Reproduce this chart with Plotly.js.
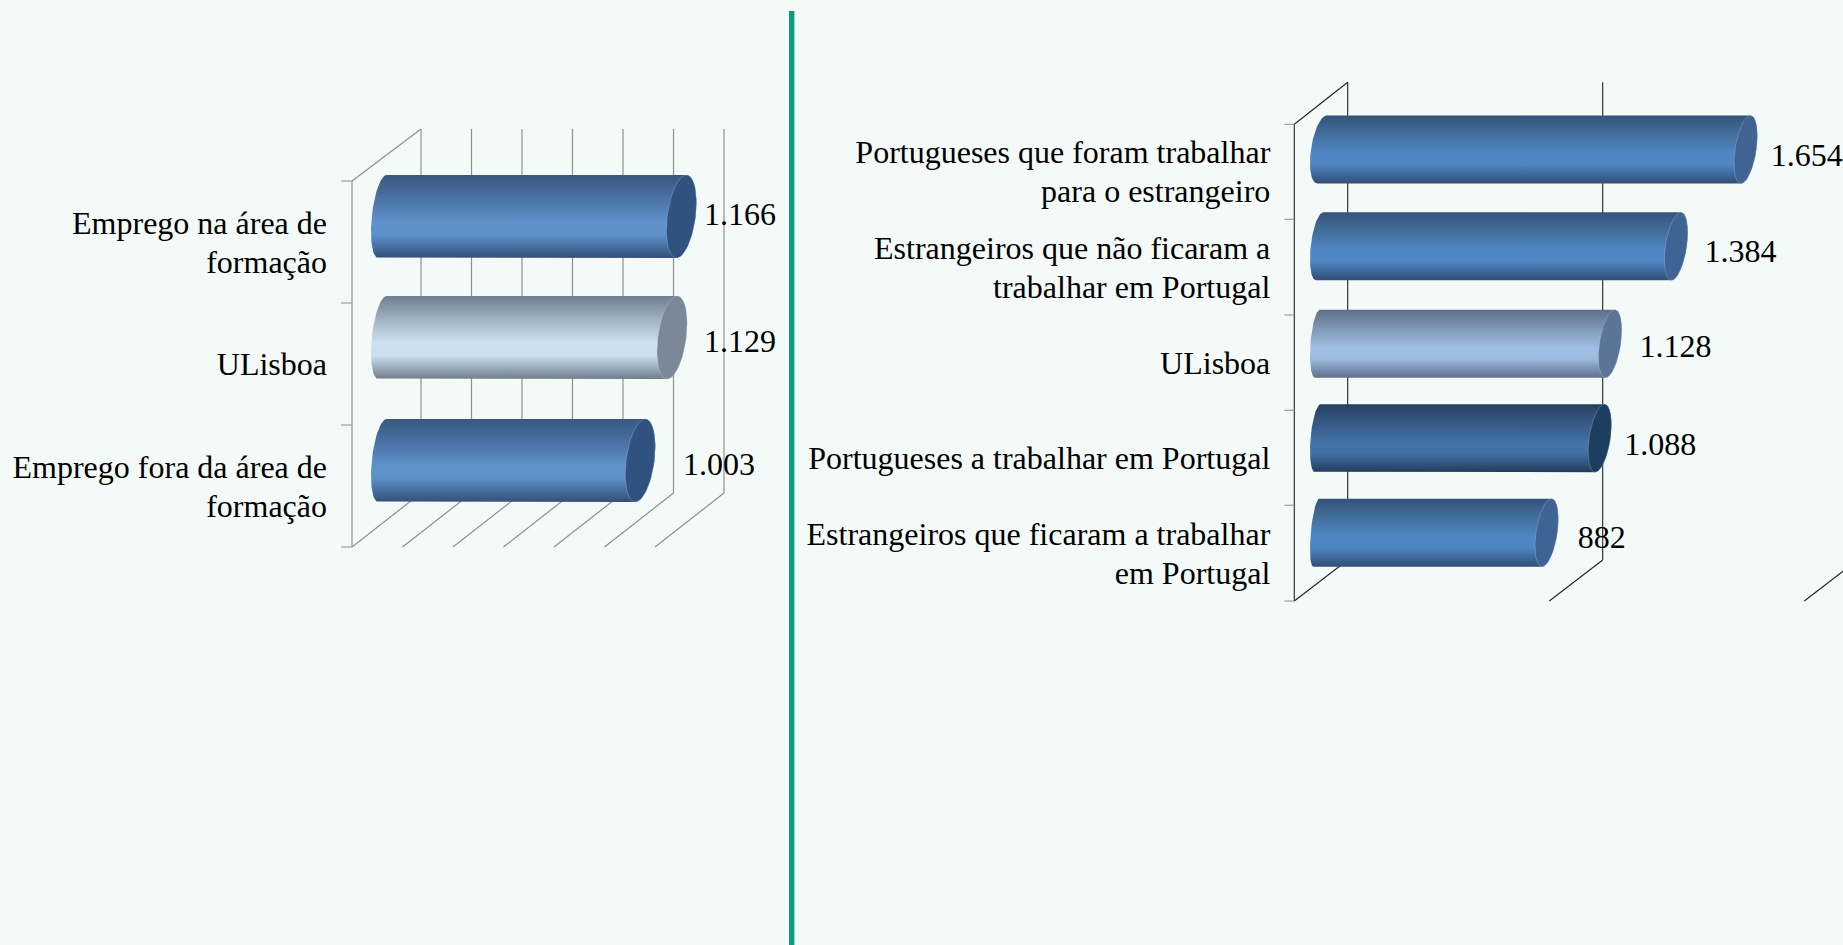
<!DOCTYPE html>
<html>
<head>
<meta charset="utf-8">
<script src="https://cdn.plot.ly/plotly-3.0.1.min.js"></script>
<style>html,body{margin:0;padding:0;background:#f4faf8;overflow:hidden}</style>
</head>
<body>
<div id="chart" style="width:1843px;height:945px"></div>
<script>
// ---------- data ----------
const leftCategories = ['Emprego na área de<br>formação', 'ULisboa', 'Emprego fora da área de<br>formação'];
const leftValues = [1166, 1129, 1003];
const rightCategories = ['Portugueses que foram trabalhar<br>para o estrangeiro', 'Estrangeiros que não ficaram a<br>trabalhar em Portugal', 'ULisboa', 'Portugueses a trabalhar em Portugal', 'Estrangeiros que ficaram a trabalhar<br>em Portugal'];
const rightValues = [1654, 1384, 1128, 1088, 882];

// ---------- styles ----------
const W = 1843, H = 945;
const BG = '#f4faf8';
const FONT = '"Liberation Serif","Times New Roman",serif';
const FS = 32;
const blueL = {grad: ['#395880', '#4b74a6', '#5f92cb', '#5d8fc8', '#32507a'], cap: '#30527e'};
const leftStyles = [
  blueL,
  {grad: ['#6f7f8f', '#a5b5c5', '#cee0f1', '#cbdeef', '#6f7d8c'], cap: '#7a8898'},
  blueL
];
const blueR = {grad: ['#33537b', '#44719f', '#5088c7', '#4e85c3', '#2f4f75'], cap: '#3f6393'};
const rightStyles = [
  blueR,
  blueR,
  {grad: ['#5d6f8b', '#829bb9', '#a0bfe5', '#9dbce1', '#5d6f8b'], cap: '#5a7595'},
  {grad: ['#254060', '#375c88', '#4372a7', '#4170a5', '#233c5c'], cap: '#1c3f60'},
  blueR
];
const STOPS = [0, 0.3, 0.57, 0.72, 1];

// geometry of each panel, in screen pixels
const leftPanel = {
  xa: 'x', ya: 'y', x0: 387, sx: 0.2525, y0: 242, sy: 122,
  barCy: [216.5, 337.5, 460.5], barH: 83,
  capA: 14.2, capK: 5, endExtreme: 371,
  endTop: [386.7, 386.7, 386.7], endBottom: [378.3, 378.3, 378.3],
  labelDx: [22.6, 32, 42.7], labelCy: [217, 343.7, 467],
  catCy: [242.5, 363.5, 486.5], catRight: 327,
  frontX: 352, step: 50.5, nGrid: 7, depthX: 69, depthY: 54,
  wallTop: 129, wallBottom: 493, frontTop: 181, frontBottom: 547, tickLen: 11,
  lineColor: '#8d9291', lineWidth: 1.2,
  tickYs: [181, 303, 425, 547]
};
const rightPanel = {
  xa: 'x2', ya: 'y2', x0: 1319.3, sx: 0.2578, y0: 172, sy: 95.3,
  barCy: [149.5, 246.3, 343.7, 438.2, 532.7], barH: 68,
  capA: 10.7, capK: 4.7, endExtreme: 1310,
  endTop: [1326.7, 1323.3, 1320, 1320.7, 1319.3], endBottom: [1317.3, 1316, 1315, 1315, 1313.3],
  labelDx: [25.1, 28.4, 29.4, 24.4, 31.1], labelCy: [158.3, 254.3, 349.3, 447, 540.3],
  catCy: [171.5, 267, 363, 458, 553.3], catRight: 1270.3,
  frontX: 1294.3, step: 255, nGrid: 3, depthX: 53.4, depthY: 41,
  wallTop: 82.3, wallBottom: 560, frontTop: 124.3, frontBottom: 601, tickLen: 10,
  lineColor: '#222222', lineWidth: 1.1,
  tickYs: [124.3, 219.3, 315, 410.3, 505.3, 601]
};
const LINE_GAP = 39;   // distance between the two lines of a wrapped category label

function xv(p, px) { return (px - p.x0) / p.sx; }
function yv(p, py) { return (py - p.y0) / p.sy; }
function fmt(v) { return String(v).replace(/(\d)(\d{3})$/, '$1.$2'); }

function arc(p, cxPx, cy, a, k, from, to, n) {
  const xs = [], ys = [];
  for (let i = 0; i <= n; i++) {
    const t = from + (to - from) * i / n;
    xs.push(xv(p, cxPx + a * Math.cos(t) + k * Math.sin(t)));
    ys.push(yv(p, cy - (p.barH / 2) * Math.sin(t)));
  }
  return [xs, ys];
}

function panelTraces(p, values, styles) {
  const traces = [];
  // wireframe: back wall, floor, front wall, category ticks
  const wx = [], wy = [];
  function seg(x1, y1, x2, y2) { wx.push(xv(p, x1), xv(p, x2), null); wy.push(yv(p, y1), yv(p, y2), null); }
  for (let i = 0; i < p.nGrid; i++) {
    const fx = p.frontX + p.step * i;
    const bx = fx + p.depthX;
    if (bx < W + 100) seg(bx, p.wallTop, bx, p.wallBottom);
    seg(fx, p.frontBottom, bx, p.wallBottom);
  }
  seg(p.frontX, p.frontTop, p.frontX, p.frontBottom);
  seg(p.frontX, p.frontTop, p.frontX + p.depthX, p.wallTop);
  traces.push({type: 'scatter', mode: 'lines', x: wx, y: wy, xaxis: p.xa, yaxis: p.ya,
    line: {color: p.lineColor, width: p.lineWidth}, hoverinfo: 'skip', showlegend: false});
  const tx = [], ty = [];
  p.tickYs.forEach(y => { tx.push(xv(p, p.frontX - p.tickLen), xv(p, p.frontX), null); ty.push(yv(p, y), yv(p, y), null); });
  traces.push({type: 'scatter', mode: 'lines', x: tx, y: ty, xaxis: p.xa, yaxis: p.ya,
    line: {color: '#9a9f9e', width: 1.2}, hoverinfo: 'skip', showlegend: false});

  // cylinders
  values.forEach((v, i) => {
    const cy = p.barCy[i], cx = p.x0 + v * p.sx, st = styles[i];
    const top = yv(p, cy - p.barH / 2), bottom = yv(p, cy + p.barH / 2);
    const endC = (p.endTop[i] + p.endBottom[i]) / 2;
    const endK = (p.endTop[i] - p.endBottom[i]) / 2;
    const endA = Math.sqrt(Math.max(1, Math.pow(endC - p.endExtreme, 2) - endK * endK));
    const right = arc(p, cx, cy, p.capA, p.capK, Math.PI / 2, -Math.PI / 2, 40);
    const left = arc(p, endC, cy, endA, endK, 3 * Math.PI / 2, Math.PI / 2, 40);
    traces.push({type: 'scatter', mode: 'lines', x: right[0].concat(left[0]), y: right[1].concat(left[1]),
      xaxis: p.xa, yaxis: p.ya, fill: 'toself', line: {width: 0, color: 'rgba(0,0,0,0)'},
      fillgradient: {type: 'vertical', start: top, stop: bottom, colorscale: STOPS.map((s, j) => [s, st.grad[j]])},
      name: fmt(v), hoverinfo: 'skip', showlegend: false});
    const cap = arc(p, cx, cy, p.capA, p.capK, 0, 2 * Math.PI, 72);
    traces.push({type: 'scatter', mode: 'lines', x: cap[0], y: cap[1], xaxis: p.xa, yaxis: p.ya,
      fill: 'toself', fillcolor: st.cap, line: {width: 0.6, color: 'rgba(190,205,225,0.5)'},
      hoverinfo: 'skip', showlegend: false});
  });

  // value labels
  traces.push({type: 'scatter', mode: 'text', xaxis: p.xa, yaxis: p.ya,
    x: values.map((v, i) => v + p.labelDx[i] / p.sx),
    y: p.labelCy.map(y => yv(p, y)),
    text: values.map(fmt), textposition: 'middle right', cliponaxis: false,
    textfont: {family: FONT, size: FS, color: '#000'}, hoverinfo: 'skip', showlegend: false});
  return traces;
}

function xAxis(p) {
  return {domain: [0, 1], range: [xv(p, 0), xv(p, W)], visible: false, fixedrange: true, anchor: p.ya};
}
function yAxis(p, cats) {
  // every line of a wrapped category label is its own tick, so the line spacing follows the picture
  const vals = [], texts = [];
  cats.forEach((c, i) => {
    const lines = c.split('<br>');
    lines.forEach((ln, j) => {
      vals.push(yv(p, p.catCy[i] + (j - (lines.length - 1) / 2) * LINE_GAP));
      texts.push(ln);
    });
  });
  return {domain: [0, 1], range: [yv(p, H), yv(p, 0)], anchor: 'free', position: p.catRight / W,
    side: 'left', tickmode: 'array', tickvals: vals, ticktext: texts,
    ticks: '', ticklen: 0, showgrid: false, zeroline: false, showline: false, fixedrange: true, automargin: false,
    tickfont: {family: FONT, size: FS, color: '#000'}};
}

const data = panelTraces(leftPanel, leftValues, leftStyles).concat(panelTraces(rightPanel, rightValues, rightStyles));
const layout = {
  width: W, height: H, margin: {l: 0, r: 0, t: 0, b: 0}, autosize: false,
  paper_bgcolor: BG, plot_bgcolor: 'rgba(0,0,0,0)', showlegend: false, hovermode: false,
  xaxis: xAxis(leftPanel), yaxis: yAxis(leftPanel, leftCategories),
  xaxis2: xAxis(rightPanel), yaxis2: yAxis(rightPanel, rightCategories),
  shapes: [{type: 'rect', xref: 'paper', yref: 'paper', x0: 789 / W, x1: 794.4 / W, y0: 0, y1: 1 - 11 / H,
    fillcolor: '#0e9b77', line: {width: 0}}]
};
Plotly.newPlot('chart', data, layout, {staticPlot: true, displayModeBar: false});
</script>
</body>
</html>
